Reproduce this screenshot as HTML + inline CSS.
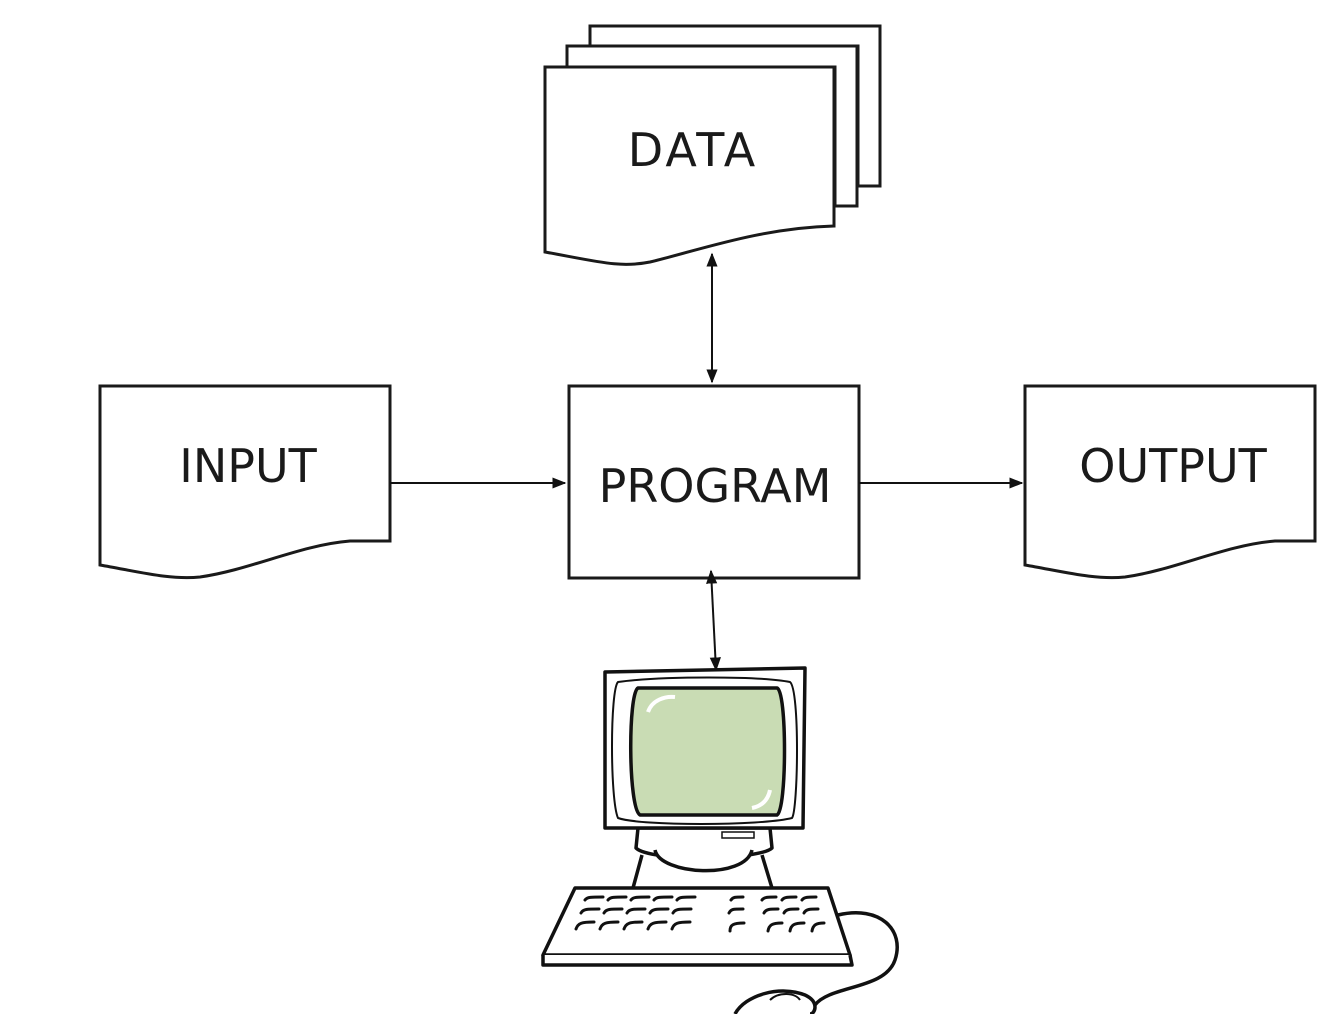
<!DOCTYPE html>
<html><head><style>
html,body{margin:0;padding:0;background:#fff;}
svg{display:block;}
text{font-family:"DejaVu Sans","Liberation Sans",sans-serif;font-size:46px;fill:#1a1a1a;}
</style></head><body>
<svg width="1329" height="1014" viewBox="0 0 1329 1014" xmlns="http://www.w3.org/2000/svg">
<defs>
<marker id="a" viewBox="0 0 10 10" refX="9" refY="5" markerWidth="7" markerHeight="7" orient="auto-start-reverse"><path d="M0,1 L10,5 L0,9 z" fill="#111"/></marker>
</defs>
<g fill="#fff" stroke="#1a1a1a" stroke-width="3">
<path d="M590,26 H880 V186 H858 V46 H590 Z"/>
<path d="M567,46 H857 V206 H835 V67 H567 Z"/>
<path d="M545,67 H834 V226 C760,228 700,250 650,262 C620,268 600,262 545,252 Z"/>
<path d="M100,386 H390 V541 H350 C300,545 250,570 200,577 C170,580 140,572 100,565 Z"/>
<rect x="569" y="386" width="290" height="192"/>
<path d="M1025,386 H1315 V541 H1275 C1225,545 1175,570 1125,577 C1095,580 1065,572 1025,565 Z"/>
</g>
<text x="693" y="166" text-anchor="middle" font-size="48" letter-spacing="3">DATA</text>
<text x="248" y="482" text-anchor="middle">INPUT</text>
<text x="715" y="502" text-anchor="middle">PROGRAM</text>
<text x="1173" y="482" text-anchor="middle">OUTPUT</text>
<g stroke="#111" stroke-width="2" fill="none">
<line x1="712" y1="254" x2="712" y2="382" marker-start="url(#a)" marker-end="url(#a)"/>
<line x1="390" y1="483" x2="565" y2="483" marker-end="url(#a)"/>
<line x1="859" y1="483" x2="1022" y2="483" marker-end="url(#a)"/>
<line x1="711" y1="571" x2="716" y2="670" marker-start="url(#a)" marker-end="url(#a)"/>
</g>
<g stroke="#111" stroke-width="3.5" fill="#fff" stroke-linejoin="round">
<path d="M838,915 C880,905 905,930 895,960 C885,990 830,985 815,1005" fill="none"/>
<path d="M735,1014 C745,995 780,985 805,995 C820,1002 815,1014 810,1014"/>
<path d="M770,1000 C778,992 795,992 800,1000" fill="none" stroke-width="2"/>
<path d="M638,828 H770 L772,848 C760,860 650,862 636,848 Z"/>
<path d="M655,850 C660,875 745,880 752,850"/>
<path d="M642,855 L633,888 M762,855 L772,888" fill="none"/>
<path d="M575,888 H828 L850,955 H543 Z"/>
<path d="M543,955 L543,965 H852 L850,955" fill="#fff"/>
<path d="M605,672 L805,668 L803,828 L605,828 Z"/>
<path d="M618,682 C660,676 760,676 790,682 C800,690 798,810 792,818 C760,826 640,826 618,818 C610,800 610,690 618,682 Z" fill="none" stroke-width="2"/>
<path d="M638,688 H777 C787,690 787,810 777,815 H640 C628,808 628,693 638,688 Z" fill="#c9dcb4"/>
</g>
<path d="M648,712 C652,700 665,696 675,697" stroke="#fff" stroke-width="4" fill="none"/>
<path d="M770,790 C768,800 762,806 752,808" stroke="#fff" stroke-width="4" fill="none"/>
<rect x="722" y="832" width="32" height="6" fill="none" stroke="#111" stroke-width="1.5"/>
<g stroke="#111" stroke-width="3" fill="none" stroke-linecap="round">
<path d="M585,900 c2,-3 6,-3 18,-3 M608,900 c2,-3 6,-3 18,-3 M631,900 c2,-3 6,-3 18,-3 M654,900 c2,-3 6,-3 18,-3 M677,900 c2,-3 6,-3 18,-3 M731,900 c2,-3 4,-3 12,-3 M762,900 c2,-3 6,-3 14,-3 M782,900 c2,-3 6,-3 14,-3 M802,900 c2,-3 6,-3 14,-3"/>
<path d="M581,913 c2,-4 6,-4 18,-4 M604,913 c2,-4 6,-4 18,-4 M627,913 c2,-4 6,-4 18,-4 M650,913 c2,-4 6,-4 18,-4 M673,913 c2,-4 6,-4 18,-4 M729,913 c2,-4 4,-4 14,-4 M764,913 c2,-4 6,-4 14,-4 M784,913 c2,-4 6,-4 14,-4 M804,913 c2,-4 6,-4 14,-4"/>
<path d="M576,929 c2,-6 6,-7 18,-7 M600,929 c2,-6 6,-7 18,-7 M624,929 c2,-6 6,-7 18,-7 M648,929 c2,-6 6,-7 18,-7 M672,929 c2,-6 6,-7 18,-7 M730,931 c0,-6 3,-8 14,-8 M768,931 c1,-6 4,-8 14,-8 M790,931 c1,-6 4,-8 14,-8 M812,931 c1,-6 4,-8 12,-8"/>
</g>
</svg>
</body></html>
